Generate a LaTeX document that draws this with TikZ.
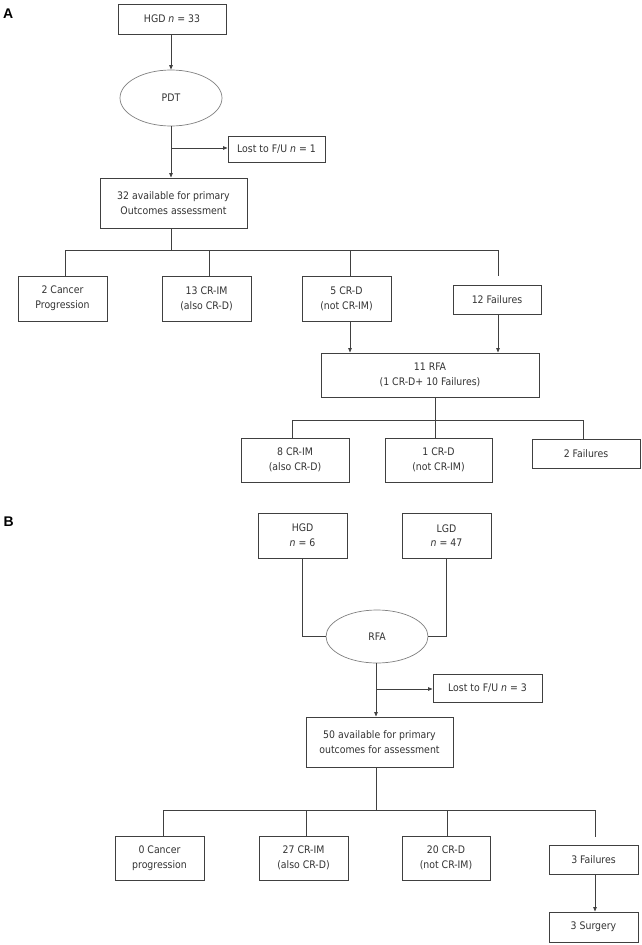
\documentclass[tikz,border=0pt]{standalone}
\usepackage{fontspec}
\setmainfont{DejaVu Sans Condensed}
\newfontfamily\lblfont{Liberation Sans}
\usetikzlibrary{shapes.geometric,arrows.meta}
\begin{document}
\begin{tikzpicture}[x=1pt,y=-1pt,
  every node/.style={font=\fontsize{10.4}{14.7}\selectfont, text=black!80},
  box/.style={draw=black!75, line width=0.9pt, align=center, inner sep=0pt},
  oval/.style={ellipse, draw=black!50, line width=0.7pt, inner sep=0pt},
  conn/.style={draw=black!75, line width=0.9pt},
  arr/.style={conn, -{Triangle[length=4.5pt,width=3.5pt]}},
  panel/.style={font=\lblfont\bfseries\fontsize{14}{14}\selectfont, text=black, inner sep=0pt}]
\useasboundingbox[fill=white] (0,0) rectangle (642,945);

% ---------- Panel A ----------
\node[panel] (lA) at (8.3,13.3) {A};
\node[box, minimum width=108pt, minimum height=30pt] (hgdA) at (172,19) {HGD \textit{n} = 33};
\node[oval, minimum width=102pt, minimum height=56pt] (pdt) at (171,98) {PDT};
\node[box, minimum width=97pt, minimum height=26pt] (lostA) at (276.5,149) {Lost to F/U \textit{n} = 1};
\node[box, minimum width=147pt, minimum height=50pt] (availA) at (173.5,203) {32 available for primary\\Outcomes assessment};
\node[box, minimum width=89pt, minimum height=45pt] (cpA) at (62.5,298.5) {2 Cancer\\Progression};
\node[box, minimum width=89pt, minimum height=45pt] (crimA) at (206.5,298.5) {13 CR-IM\\(also CR-D)};
\node[box, minimum width=89pt, minimum height=45pt] (crdA) at (346.5,298.5) {5 CR-D\\(not CR-IM)};
\node[box, minimum width=88pt, minimum height=29pt] (failA) at (497,299.5) {12 Failures};
\node[box, minimum width=218pt, minimum height=44pt] (rfaA) at (430,375) {11 RFA\\(1 CR-D+ 10 Failures)};
\node[box, minimum width=108pt, minimum height=44pt] (crimA2) at (295,460) {8 CR-IM\\(also CR-D)};
\node[box, minimum width=107pt, minimum height=44pt] (crdA2) at (438.5,460) {1 CR-D\\(not CR-IM)};
\node[box, minimum width=108pt, minimum height=29pt] (failA2) at (586,453.5) {2 Failures};

\coordinate (tA) at (171,0);
\coordinate (jA) at (171,148);
\coordinate (hA1) at (65,250);
\coordinate (hA2) at (209,250);
\coordinate (hA3) at (350,250);
\coordinate (hA4) at (498,250);
\coordinate (gA) at (498,276);
\coordinate (kA) at (435,420);
\coordinate (kA1) at (292,420);
\coordinate (kA3) at (583,420);

\draw[arr] (tA |- hgdA.south) -- (tA |- pdt.north);
\draw[arr] (tA |- pdt.south) -- (tA |- availA.north);
\draw[arr] (jA) -- (jA -| lostA.west);
\draw[conn] (tA |- availA.south) -- (tA |- hA1);
\draw[conn] (hA1 |- cpA.north) -- (hA1) -- (hA4) -- (gA);
\draw[conn] (hA2) -- (hA2 |- crimA.north);
\draw[conn] (hA3) -- (hA3 |- crdA.north);
\draw[arr] (hA3 |- crdA.south) -- (hA3 |- rfaA.north);
\draw[arr] (hA4 |- failA.south) -- (hA4 |- rfaA.north);
\draw[conn] (kA |- rfaA.south) -- (kA |- crdA2.north);
\draw[conn] (kA1 |- crimA2.north) -- (kA1) -- (kA3) -- (kA3 |- failA2.north);

% ---------- Panel B ----------
\node[panel] (lB) at (8.6,522) {B};
\node[box, minimum width=89pt, minimum height=45pt] (hgdB) at (302.5,535.5) {HGD\\\textit{n} = 6};
\node[box, minimum width=89pt, minimum height=45pt] (lgdB) at (446.5,535.5) {LGD\\\textit{n} = 47};
\node[oval, minimum width=102pt, minimum height=53pt] (rfaB) at (377,636.5) {RFA};
\node[box, minimum width=109pt, minimum height=28pt] (lostB) at (487.5,688) {Lost to F/U \textit{n} = 3};
\node[box, minimum width=147pt, minimum height=50pt] (availB) at (379.5,742) {50 available for primary\\outcomes for assessment};
\node[box, minimum width=89pt, minimum height=44pt] (cpB) at (159.5,858) {0 Cancer\\progression};
\node[box, minimum width=89pt, minimum height=44pt] (crimB) at (303.5,858) {27 CR-IM\\(also CR-D)};
\node[box, minimum width=88pt, minimum height=44pt] (crdB) at (446,858) {20 CR-D\\(not CR-IM)};
\node[box, minimum width=89pt, minimum height=29pt] (failB) at (593.5,859.5) {3 Failures};
\node[box, minimum width=89pt, minimum height=30pt] (surgB) at (593.5,927) {3 Surgery};

\coordinate (jB) at (376,689);
\coordinate (hB1) at (163,810);
\coordinate (hB2) at (306,810);
\coordinate (hB3) at (447,810);
\coordinate (hB4) at (595,810);
\coordinate (gB) at (595,837);

\draw[conn] (hgdB.south) -- (hgdB.south |- rfaB.west) -- (rfaB.west);
\draw[conn] (lgdB.south) -- (lgdB.south |- rfaB.east) -- (rfaB.east);
\draw[arr] (jB |- rfaB.south) -- (jB |- availB.north);
\draw[arr] (jB) -- (jB -| lostB.west);
\draw[conn] (jB |- availB.south) -- (jB |- hB1);
\draw[conn] (hB1 |- cpB.north) -- (hB1) -- (hB4) -- (gB);
\draw[conn] (hB2) -- (hB2 |- crimB.north);
\draw[conn] (hB3) -- (hB3 |- crdB.north);
\draw[arr] (hB4 |- failB.south) -- (hB4 |- surgB.north);
\end{tikzpicture}
\end{document}
